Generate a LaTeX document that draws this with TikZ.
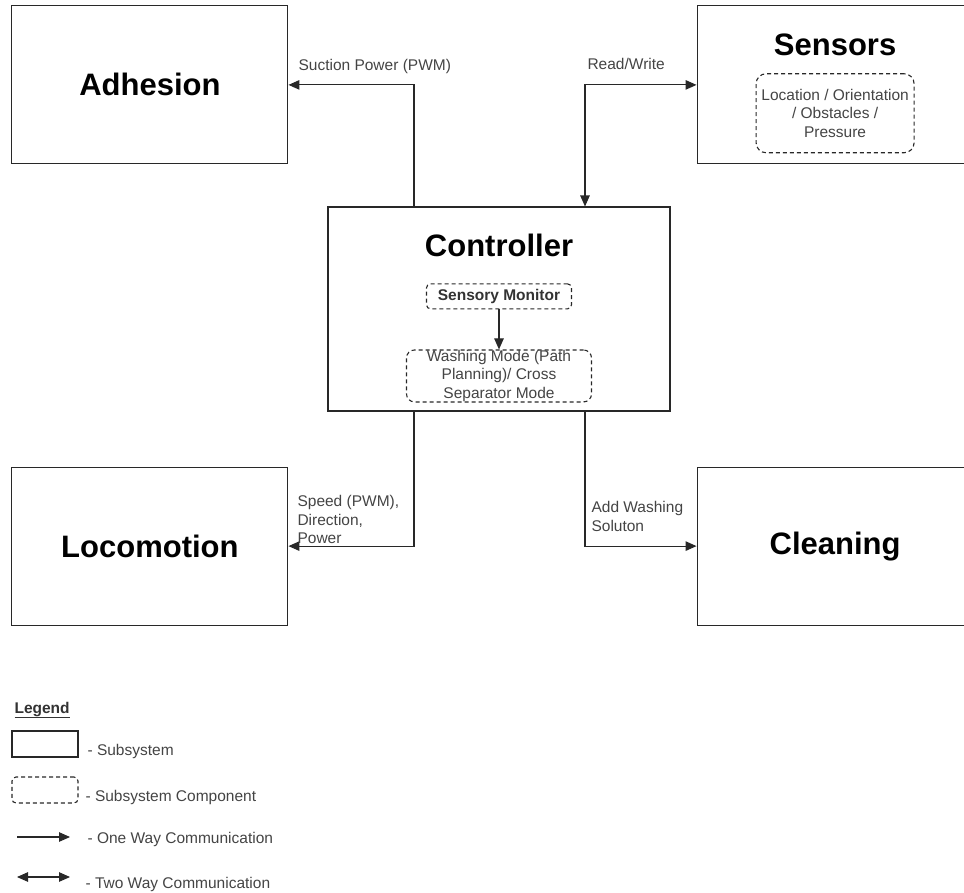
\documentclass[tikz,border=0pt]{standalone}
\usepackage{fontspec}
\setmainfont{Liberation Sans}
\usepackage{tikz}
\usetikzlibrary{arrows.meta}
\usetikzlibrary{positioning}
\definecolor{lblgray}{RGB}{68,68,68}
\definecolor{linegray}{RGB}{40,40,40}

\begin{document}
\begin{tikzpicture}[x=1pt,y=-1pt,>={Triangle[length=11pt,width=9.5pt]},
  line width=1.1pt,draw=linegray,
  subsys/.style={rectangle,draw=linegray,minimum width=276pt,minimum height=158pt,
    font=\fontsize{31}{36}\selectfont\bfseries},
  title/.style={inner sep=0pt,font=\fontsize{31}{36}\selectfont\bfseries},
  comp/.style={rectangle,draw=linegray,dash pattern=on 4pt off 3pt,rounded corners=8pt,
    inner sep=0pt,align=center,text=lblgray,font=\fontsize{15.5}{18.5}\selectfont},
  lbl/.style={inner sep=0pt,align=left,text=lblgray,font=\fontsize{15.5}{18.5}\selectfont}]

  \useasboundingbox (0,0) rectangle (964,892);
  \clip (0,0) rectangle (964,892);

  \node[subsys,minimum width=342pt,minimum height=204pt] (ctrl) at (499,309) {};
  \node[subsys] (adh)   [above left=42pt and 39pt of ctrl]  {Adhesion};
  \node[subsys] (sens)  [above right=42pt and 26pt of ctrl] {};
  \node[subsys] (loco)  [below left=55pt and 39pt of ctrl]  {Locomotion};
  \node[subsys] (clean) [below right=55pt and 26pt of ctrl] {Cleaning};

  \node[title,anchor=base] (senstitle) at ([yshift=-50pt]sens.north) {Sensors};
  \node[comp,minimum width=158pt,minimum height=79pt,rounded corners=10pt] (senscomp)
    [below=17pt of senstitle] {Location / Orientation\\/ Obstacles /\\Pressure};

  \node[title,anchor=base] (ctrltitle) at ([yshift=-50pt]ctrl.north) {Controller};
  \node[comp,minimum width=145pt,minimum height=25pt,rounded corners=4pt,
    text=black!80,font=\fontsize{15.5}{18.5}\selectfont\bfseries] (mon)
    [below=26pt of ctrltitle] {Sensory Monitor};
  \node[comp,minimum width=185pt,minimum height=52pt] (wash) [below=40pt of mon]
    {Washing Mode (Path\\Planning)/ Cross\\Separator Mode};
  \draw[->] (mon) -- (wash);

  % lanes out of the controller
  \coordinate (lanel) at (414,309);
  \coordinate (laner) at (585,309);
  \draw[->]  (ctrl.north -| lanel) |- (adh);
  \draw[<->] (ctrl.north -| laner) |- (sens);
  \draw[->]  (ctrl.south -| lanel) |- (loco);
  \draw[->]  (ctrl.south -| laner) |- (clean);

  \node[lbl,anchor=base west] (suclbl) at (298,70) {Suction Power (PWM)};
  \node[lbl,anchor=base west] (rwlbl) at (587,69) {Read/Write};
  \node[lbl,anchor=north west] (locolbl) at (297,495) {Speed (PWM),\\Direction,\\Power};
  \node[lbl,anchor=north west] (cleanlbl) at (591,501) {Add Washing\\Soluton};

  % legend
  \node[lbl,anchor=base west,text=black!80,font=\fontsize{15.5}{18.5}\selectfont\bfseries]
    (legtitle) at (14,713) {\underline{Legend}};
  \node[rectangle,draw=linegray,minimum width=66pt,minimum height=26pt] (legsub) at (45,744) {};
  \node[lbl,anchor=base west] (legsubtxt) at (87,755) {- Subsystem};
  \node[comp,minimum width=66pt,minimum height=26pt,rounded corners=4pt] (legcomp) at (45,790) {};
  \node[lbl,anchor=base west] (legcomptxt) at (85,801) {- Subsystem Component};
  \coordinate (onea) at (17,837);
  \coordinate (oneb) at (70,837);
  \draw[->] (onea) -- (oneb);
  \node[lbl,anchor=base west] (legonetxt) at (87,843) {- One Way Communication};
  \coordinate (twoa) at (17,877);
  \coordinate (twob) at (70,877);
  \draw[<->] (twoa) -- (twob);
  \node[lbl,anchor=base west] (legtwotxt) at (85,888) {- Two Way Communication};
\end{tikzpicture}
\end{document}
